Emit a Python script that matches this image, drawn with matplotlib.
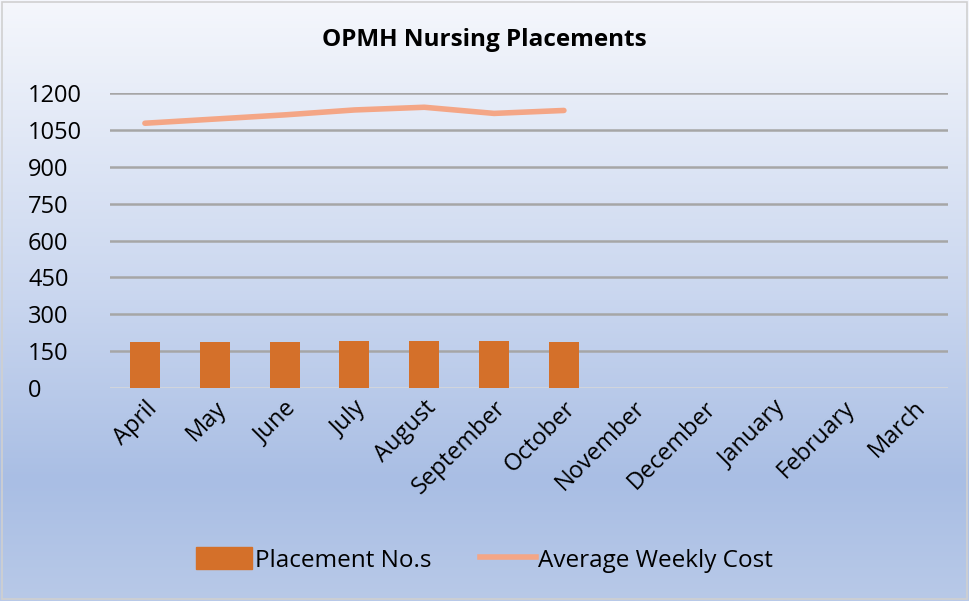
import numpy as np
import matplotlib.pyplot as plt
from matplotlib.patches import Rectangle
from matplotlib.colors import LinearSegmentedColormap

months = ['April', 'May', 'June', 'July', 'August', 'September', 'October',
          'November', 'December', 'January', 'February', 'March']
placements = [187, 187, 187, 191, 191, 191, 187]
weekly_cost = [1077, 1094, 1111, 1131, 1142, 1117, 1129]
yticks = [0, 150, 300, 450, 600, 750, 900, 1050, 1200]

plt.rcParams['font.family'] = ['Open Sans', 'DejaVu Sans']

fig = plt.figure(figsize=(9.69, 6.01), dpi=100)

# background gradient, white-ish at top to light blue lower down
bg = fig.add_axes([0, 0, 1, 1], zorder=-10)
grad = np.linspace(0, 1, 256).reshape(-1, 1)
cmap = LinearSegmentedColormap.from_list(
    'bg', [(0, '#F5F7FC'), (0.5, '#C9D6EF'), (0.8, '#A9BEE4'), (1, '#B8C9E8')])
bg.imshow(grad, aspect='auto', cmap=cmap, extent=[0, 1, 0, 1], origin='upper')
bg.add_patch(Rectangle((0.002, 0.003), 0.996, 0.994, fill=False,
                       edgecolor='#D0D0D0', lw=1.2, transform=bg.transAxes))
bg.set_axis_off()

ax = fig.add_axes([110 / 969, 1 - 388 / 601, 838 / 969, 295 / 601])
ax.patch.set_alpha(0)

x = np.arange(len(months))
ax.bar(x[:len(placements)], placements, width=0.43, color='#D4702A', zorder=3)
ax.plot(x[:len(weekly_cost)], weekly_cost, color='#F4A686', lw=4,
        solid_capstyle='round', zorder=4)

ax.set_xlim(-0.5, len(months) - 0.5)
ax.set_ylim(0, 1200)
ax.set_yticks(yticks)
ax.set_yticklabels([str(v) for v in yticks], fontsize=17)
ax.set_xticks(x)
ax.set_xticklabels(months, rotation=45, ha='right', rotation_mode='anchor',
                   fontsize=17)
ax.tick_params(length=0, pad=6)
ax.tick_params(axis='y', pad=59)
for lbl in ax.get_yticklabels():
    lbl.set_horizontalalignment('left')
for v in yticks[1:]:
    ax.axhline(v, color='#A6A6A6', lw=1.8, zorder=1)
ax.axhline(0, color='#D9D9D9', lw=1.8, zorder=2)
for s in ax.spines.values():
    s.set_visible(False)

fig.text(0.5, 1 - 40 / 601, 'OPMH Nursing Placements', ha='center', va='center',
         fontsize=17.5, fontweight='bold')

handles = [Rectangle((0, 0), 1, 1, color='#D4702A'),
           plt.Line2D([0], [0], color='#F4A686', lw=4)]
fig.legend(handles, ['Placement No.s', 'Average Weekly Cost'], loc='center',
           bbox_to_anchor=(0.5, 1 - 560 / 601), ncol=2, frameon=False,
           fontsize=17.5, handlelength=2.3, handleheight=1.0, handletextpad=0.1,
           columnspacing=2.0)

fig.savefig('out.png', dpi=100)
